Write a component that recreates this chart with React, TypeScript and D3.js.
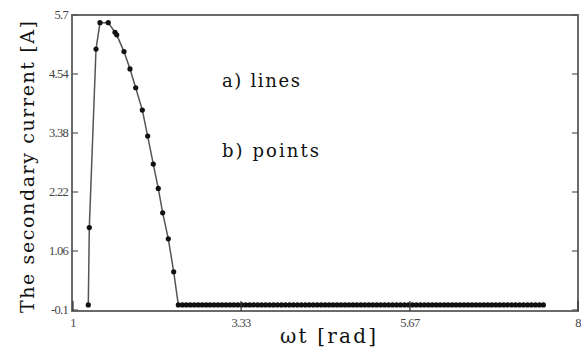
import React from "react";
import * as d3 from "d3";

const curveX = [1.212, 1.226, 1.319, 1.374, 1.489, 1.582, 1.606, 1.707, 1.79, 1.869, 1.961, 2.035, 2.113, 2.182, 2.243, 2.321, 2.396];
const curveY = [0, 1.52, 5.03, 5.55, 5.55, 5.36, 5.31, 4.98, 4.64, 4.27, 3.83, 3.32, 2.77, 2.29, 1.81, 1.3, 0.65];
const flatX = [
  2.46, 2.515, 2.57, 2.625, 2.68, 2.735, 2.79, 2.845, 2.9, 2.955, 3.01, 3.065, 3.12, 3.175, 3.23, 3.285, 3.34, 3.395,
  3.45, 3.505, 3.56, 3.615, 3.67, 3.725, 3.78, 3.835, 3.89, 3.945, 4.0, 4.055, 4.11, 4.165, 4.22, 4.275, 4.33, 4.385,
  4.44, 4.495, 4.55, 4.605, 4.66, 4.715, 4.77, 4.825, 4.88, 4.935, 4.99, 5.045, 5.1, 5.155, 5.21, 5.265, 5.32, 5.375,
  5.43, 5.485, 5.54, 5.595, 5.65, 5.705, 5.76, 5.815, 5.87, 5.925, 5.98, 6.035, 6.09, 6.145, 6.2, 6.255, 6.31, 6.365,
  6.42, 6.475, 6.53, 6.585, 6.64, 6.695, 6.75, 6.805, 6.86, 6.915, 6.97, 7.025, 7.08, 7.135, 7.19, 7.245, 7.3, 7.355,
  7.41, 7.465, 7.52,
];
const flatY = flatX.map(() => 0);

const yTicks = [5.7, 4.54, 3.38, 2.22, 1.06, -0.1];
const yTickLabels = ["5.7", "4.54", "3.38", "2.22", "1.06", "-0.1"];
const xTicks = [1, 3.33, 5.67, 8];
const xTickLabels = ["1", "3.33", "5.67", "8"];

export default function App() {
  const W = 581, H = 349;
  const left = 72, right = 578, top = 15, bottom = 311;
  const x = d3.scaleLinear().domain([1, 8]).range([73, 578]);
  const y = d3.scaleLinear().domain([-0.1, 5.7]).range([310, 15]);

  const pts: [number, number][] = [
    ...curveX.map((v, i) => [v, curveY[i]] as [number, number]),
    ...flatX.map((v, i) => [v, flatY[i]] as [number, number]),
  ];
  const line = d3.line<[number, number]>().x((d) => x(d[0])).y((d) => y(d[1]));

  const serif = "'Liberation Serif', serif";
  const dserif = "'DejaVu Serif', serif";
  return (
    <svg width={W} height={H} style={{ position: "absolute", left: 0, top: 0, background: "#fff" }}>
      <rect x={0} y={0} width={W} height={H} fill="#fff" />
      <path d={line(pts) || ""} fill="none" stroke="#555" strokeWidth={1.5} />
      {pts.map((d, i) => (
        <circle key={i} cx={x(d[0])} cy={y(d[1])} r={2.6} fill="#111" />
      ))}
      <rect x={left} y={top} width={right - left} height={bottom - top} fill="none" stroke="#6a6a6a" strokeWidth={2} />
      {yTicks.map((t, i) => (
        <g key={"y" + i}>
          <line x1={left} x2={left + 6} y1={y(t)} y2={y(t)} stroke="#555" strokeWidth={1.2} />
          <line x1={right - 6} x2={right} y1={y(t)} y2={y(t)} stroke="#555" strokeWidth={1.2} />
          <text x={left - 4} y={y(t)} dy="0.35em" textAnchor="end" fontFamily={serif} fontSize={12.5} fill="#444" letterSpacing={-0.7}>
            {yTickLabels[i]}
          </text>
        </g>
      ))}
      {xTicks.map((t, i) => (
        <g key={"x" + i}>
          <line x1={x(t)} x2={x(t)} y1={bottom} y2={bottom - 10} stroke="#333" strokeWidth={1.2} />
          <text x={x(t)} y={327} textAnchor="middle" fontFamily={serif} fontSize={12.5} fill="#444" letterSpacing={-0.7}>
            {xTickLabels[i]}
          </text>
        </g>
      ))}
      <text x={222} y={87} fontFamily={dserif} fontSize={18} fill="#111" textLength={78} lengthAdjust="spacing">a) lines</text>
      <text x={222} y={157} fontFamily={dserif} fontSize={18} fill="#111" textLength={97} lengthAdjust="spacing">b) points</text>
      <text transform="translate(34,167) rotate(-90)" textAnchor="middle" fontFamily={dserif} fontSize={19} fill="#111" textLength={292} lengthAdjust="spacing">
        The secondary current [A]
      </text>
      <text x={328} y={343} textAnchor="middle" fontFamily={dserif} fontSize={20} fill="#111" textLength={96} lengthAdjust="spacing">
        ωt [rad]
      </text>
    </svg>
  );
}
